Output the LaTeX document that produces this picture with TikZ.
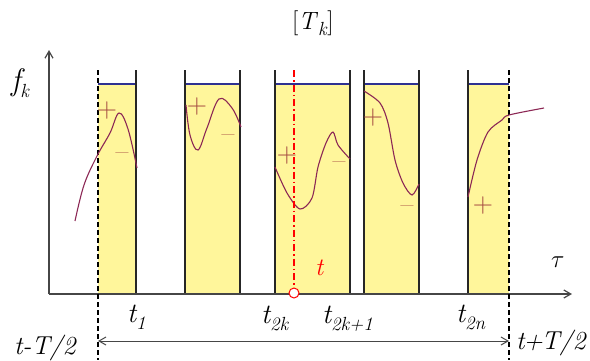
\documentclass[tikz,border=0pt]{standalone}
\usetikzlibrary{arrows.meta}
\usepackage{xcolor}
\definecolor{band}{RGB}{255,246,155}
\definecolor{navy}{RGB}{46,49,146}
\definecolor{curve}{RGB}{140,40,85}
\definecolor{sign}{RGB}{165,75,65}
\definecolor{axis}{RGB}{70,70,70}
\newcommand{\lo}[1]{\raisebox{-0.25em}{\fontsize{19}{19}\selectfont #1}}

\begin{document}
\begin{tikzpicture}[
		x=1pt, y=-1pt,
		ax/.style   = {draw=axis, line width=1.2pt, -{Straight Barb[length=7pt, width=8pt]}},
		side/.style = {draw=black!85, line width=1.4pt},
		bnd/.style  = {line width=1.2pt, dash pattern=on 5pt off 3pt},
		f/.style    = {draw=curve, line width=1.1pt},
		sg/.style   = {text=sign, font=\fontsize{28}{28}\selectfont, inner sep=0pt},
		lb/.style   = {font=\fontsize{28}{32}\selectfont\itshape, inner sep=0pt, outer sep=0pt, anchor=base west},
		lim/.style  = {lb, font=\fontsize{26}{30}\selectfont\itshape},
		]
		\useasboundingbox (0,0) rectangle (590,360);

		% === === Bands === ===
		\foreach \a/\b in {98/136, 185/240, 275/350, 364/419, 468/509} {
			\fill[band] (\a,84) rectangle (\b,294);
			\draw[navy, line width=1.2pt] (\a,84) -- (\b,84);
		}
		\foreach \x in {136, 185, 240, 275, 350, 364, 419, 468} {
			\draw[side] (\x,70) -- (\x,294);
		}

		% === === Axes === ===
		\coordinate (o)    at (49,294);
		\coordinate (ytip) at (49,50);
		\coordinate (xtip) at (572,294);
		\draw[ax] (o) -- (ytip);
		\draw[ax] (o) -- (xtip);

		% === === Window === ===
		\coordinate (wl) at (98,70);
		\coordinate (wr) at (509,70);
		\draw[bnd] (wl) -- (98,360);
		\draw[bnd] (wr) -- (509,360);
		\coordinate (al) at (98,341);
		\coordinate (ar) at (509,341);
		\draw[draw=axis, line width=1pt, {Straight Barb[length=7pt, width=8pt]}-{Straight Barb[length=7pt, width=8pt]}] (al) -- (ar);

		% === === Curves === ===
		\draw[f] plot[smooth, tension=0.6] coordinates {(75,221) (84,185) (97,156) (110,133) (119,113) (128,129) (137,168)};
		\draw[f] plot[smooth, tension=0.6] coordinates {(186,105) (190,135) (198,150) (207,128) (219,99) (232,108) (241,127)};
		\draw[f] plot[smooth, tension=0.5] coordinates {(275,167) (287,193) (300,209) (312,198) (318,167) (326,143) (333,132) (338,145) (350,159)};
		\draw[f] plot[smooth, tension=0.5] coordinates {(364,91) (380,103) (388,123) (395,160) (403,183) (412,195) (419,184)};
		\draw[f] plot[smooth, tension=0.5] coordinates {(468,197) (477,160) (488,132) (502,120) (509,115) (544,108)};

		% === === Signs === ===
		\node[sg] (p1) at (107,111) {+};
		\node[sg] (m1) at (122,157) {\textendash};
		\node[sg] (p2) at (197,107) {+};
		\node[sg] (m2) at (228,139) {\textendash};
		\node[sg] (p3) at (287,156) {+};
		\node[sg] (m3) at (339,166) {\textendash};
		\node[sg] (p4) at (373,118) {+};
		\node[sg] (m4) at (407,210) {\textendash};
		\node[sg] (p5) at (483,206) {+};

		% === === Current time === ===
		\coordinate (tt) at (294,70);
		\node[circle, draw=red, line width=1pt, fill=white, minimum size=10pt, inner sep=0pt] (tc) at (294,293) {};
		\draw[red, line width=1.2pt, dash pattern=on 7pt off 3pt on 1.5pt off 3pt] (tt) -- (tc.north);
		\node[lb, text=red, font=\fontsize{25}{28}\selectfont\itshape] (tl) at (315,275) {t};

		% === === Labels === ===
		\node[lb, font=\fontsize{25}{28}\selectfont] (Tk) at (292,29) {[\textit{T}\lo{\textit{k}}]};
		\node[lb, font=\fontsize{31}{34}\selectfont\itshape] (fk) at (11,90) {f\lo{k}};
		\node[lb] (tau)  at (551,267) {$\tau$};
		\node[lb] (t1)   at (127,322) {t\lo{1}};
		\node[lb] (t2k)  at (261,323) {t\lo{2k}};
		\node[lb] (t2k1) at (322,323) {t\lo{2k+1}};
		\node[lb] (t2n)  at (456,322) {t\lo{2n}};
		\node[lim] (wlt) at (14,354)  {t-T/2};
		\node[lim] (wrt) at (516,349) {t\kern-1pt+\kern-1.5pt T/2};

	\end{tikzpicture}
\end{document}
